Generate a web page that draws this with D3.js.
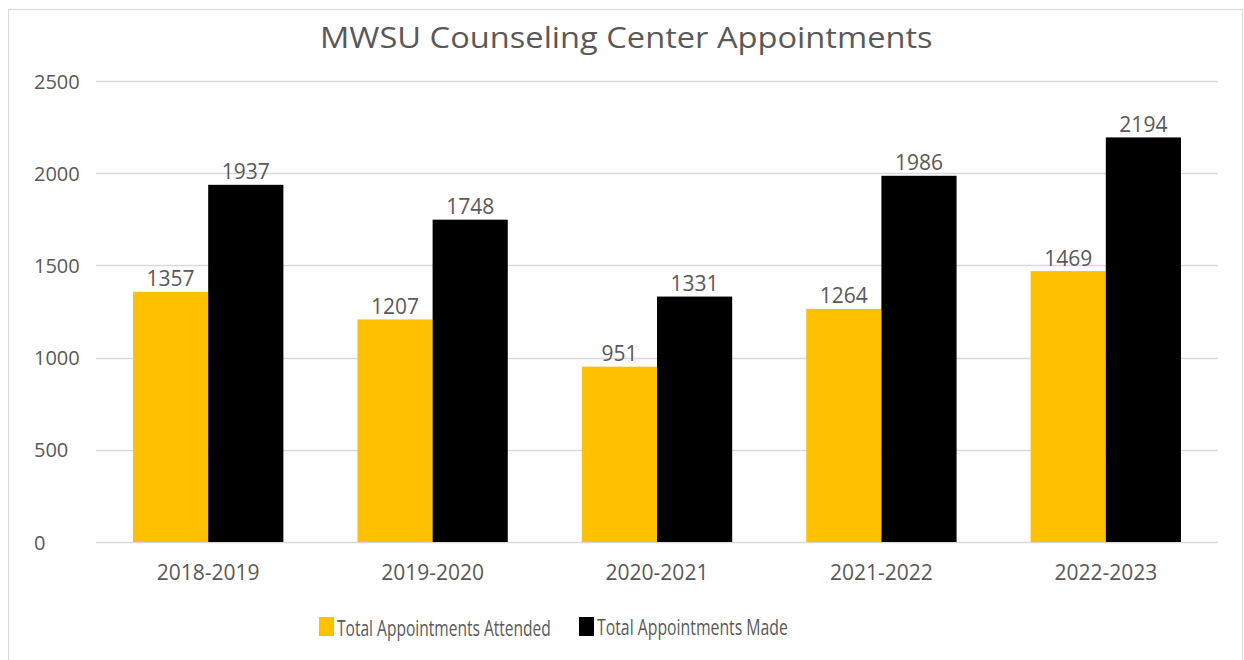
<!DOCTYPE html>
<html>
<head>
<meta charset="utf-8">
<script src="https://cdn.jsdelivr.net/npm/d3@7"></script>
<style>
  body { margin: 0; background: #fff; }
  text { font-family: "Open Sans", sans-serif; fill: #595959; }
</style>
</head>
<body>
<div id="chart"></div>
<script>
var categories = ["2018-2019", "2019-2020", "2020-2021", "2021-2022", "2022-2023"];
var seriesNames = ["Total Appointments Attended", "Total Appointments Made"];
var attended = [1357, 1207, 951, 1264, 1469];
var made = [1937, 1748, 1331, 1986, 2194];
var yTicks = [0, 500, 1000, 1500, 2000, 2500];

// stretch or squeeze a text horizontally to a given width, anchored at (x, y)
function fitWidth(sel, x, y, width) {
    sel.attr("x", 0).attr("y", 0);
    var natural = sel.node().getComputedTextLength();
    sel.attr("transform", "translate(" + x + "," + y + ") scale(" + (width / natural) + ",1)");
}

function drawChart() {
    var w = 1244;
    var h = 660;
    var left = 96, right = 1218, top = 81, bottom = 542;
    var colors = ["#FFC000", "#000000"];

    var svg = d3.select("#chart")
                .append("svg")
                .attr("width", w)
                .attr("height", h);

    // outer chart border
    svg.append("rect")
        .attr("x", 8.5).attr("y", 9.5)
        .attr("width", 1234).attr("height", 660)
        .attr("fill", "none")
        .attr("stroke", "#d9d9d9");

    var title = svg.append("text")
        .attr("dominant-baseline", "central")
        .style("font-size", "30px")
        .text("MWSU Counseling Center Appointments");
    fitWidth(title, 320, 37, 613);

    var x = d3.scaleBand()
                .domain(categories)
                .range([left, right])
                .paddingInner(0.33)
                .paddingOuter(0.165);

    var xSub = d3.scaleBand()
                .domain([0, 1])
                .range([0, x.bandwidth()]);

    var y = d3.scaleLinear()
                .domain([0, 2500])
                .range([bottom, top]);

    // gridlines
    svg.append("g")
        .selectAll("line")
        .data(yTicks)
        .enter()
        .append("line")
        .attr("x1", left).attr("x2", right)
        .attr("y1", function(d){ return Math.round(y(d)) + 0.5; })
        .attr("y2", function(d){ return Math.round(y(d)) + 0.5; })
        .attr("stroke", "#d9d9d9")
        .attr("stroke-width", 1.5);

    // y labels (left aligned like the original)
    svg.append("g")
        .selectAll("text")
        .data(yTicks)
        .enter()
        .append("text")
        .attr("x", 34)
        .attr("y", function(d){ return y(d); })
        .attr("dominant-baseline", "central")
        .style("font-size", "20px")
        .text(function(d){ return d; });

    var rows = categories.map(function(c, i){
        return { cat: c, values: [attended[i], made[i]] };
    });

    var groups = svg.selectAll("g.cat")
                    .data(rows)
                    .enter()
                    .append("g")
                    .attr("class", "cat")
                    .attr("transform", function(d){ return "translate(" + x(d.cat) + ",0)"; });

    groups.selectAll("rect")
        .data(function(d){ return d.values; })
        .enter()
        .append("rect")
        .attr("x", function(d, i){ return xSub(i); })
        .attr("width", xSub.bandwidth())
        .attr("y", function(d){ return y(d); })
        .attr("height", function(d){ return y(0) - y(d); })
        .attr("fill", function(d, i){ return colors[i]; });

    groups.selectAll("text.val")
        .data(function(d){ return d.values; })
        .enter()
        .append("text")
        .attr("class", "val")
        .attr("x", function(d, i){ return xSub(i) + xSub.bandwidth() / 2; })
        .attr("y", function(d){ return y(d) - 5.5; })
        .attr("text-anchor", "middle")
        .style("font-size", "21px")
        .text(function(d){ return d; });

    // category labels
    svg.append("g")
        .selectAll("text")
        .data(categories)
        .enter()
        .append("text")
        .attr("x", function(d){ return x(d) + x.bandwidth() / 2; })
        .attr("y", 572)
        .attr("text-anchor", "middle")
        .attr("dominant-baseline", "central")
        .style("font-size", "21px")
        .text(function(d){ return d; });

    // legend
    var legendX = [319, 579];
    var legendLen = [214, 191];
    var legend = svg.selectAll("g.legend")
                    .data(seriesNames)
                    .enter()
                    .append("g")
                    .attr("class", "legend")
                    .attr("transform", function(d, i){ return "translate(" + legendX[i] + ",0)"; });

    legend.append("rect")
        .attr("x", 0).attr("y", 617)
        .attr("width", 15).attr("height", 19)
        .attr("fill", function(d, i){ return colors[i]; });

    legend.append("text")
        .attr("dominant-baseline", "central")
        .style("font-size", "21px")
        .text(function(d){ return d; })
        .each(function(d, i){ fitWidth(d3.select(this), 18, 627, legendLen[i]); });
}

window.onload = drawChart;
</script>
</body>
</html>
